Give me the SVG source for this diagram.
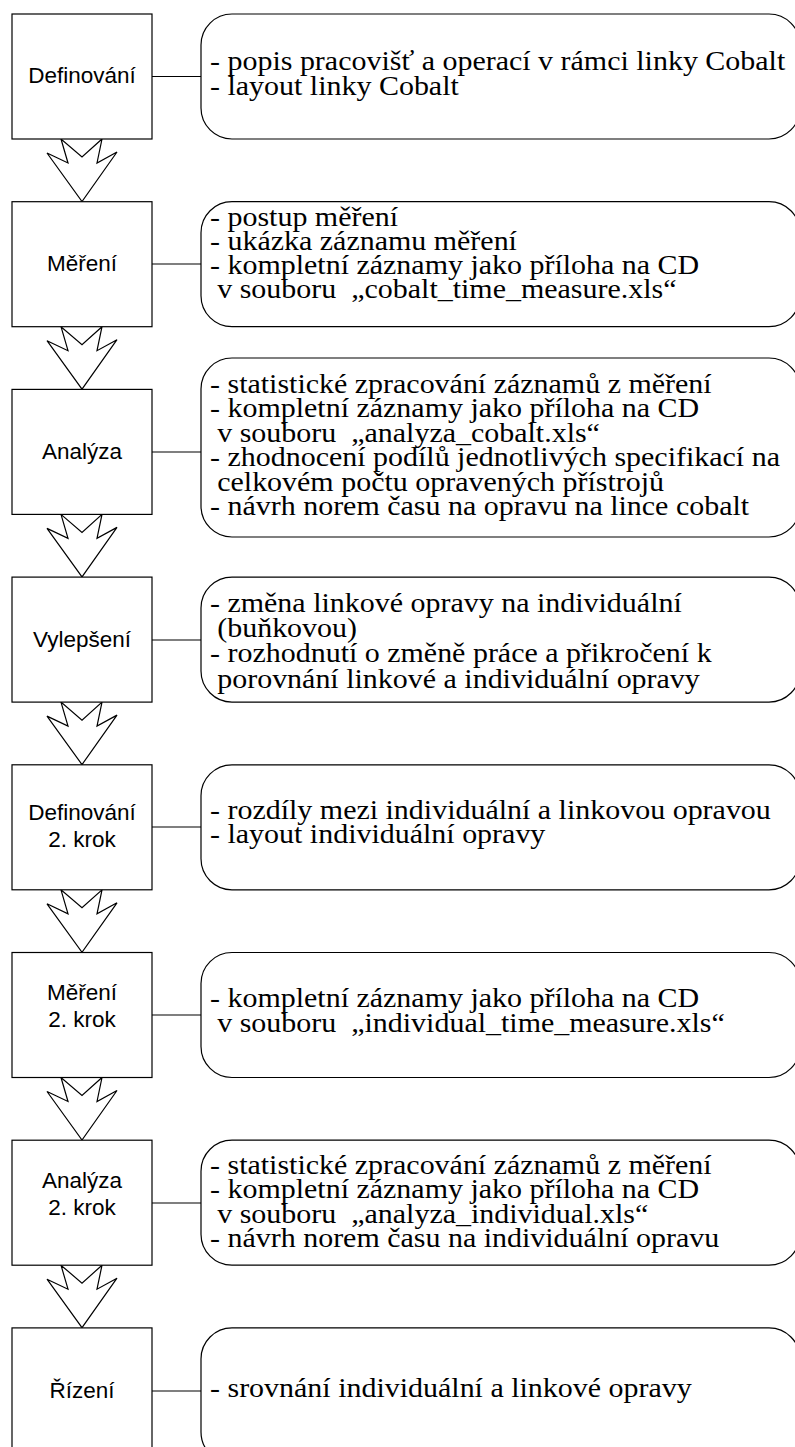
<svg xmlns="http://www.w3.org/2000/svg" width="795" height="1447" viewBox="0 0 795 1447">
  <style>
    .step { fill: #fff; stroke: #000; stroke-width: 1.2; }
    .note { fill: #fff; stroke: #000; stroke-width: 1.2; }
    .label { font-family: "Liberation Sans", Arial, sans-serif; font-size: 22.5px; fill: #000; text-anchor: middle; }
    .txt { font-family: "Liberation Serif", "Times New Roman", serif; font-size: 27px; fill: #000; }
    .txt text { white-space: pre; }
    .link { stroke: #000; stroke-width: 1.2; fill: none; }
    .flow { fill: #fff; stroke: #000; stroke-width: 1.2; stroke-linejoin: miter; }
  </style>
  <defs>
    <!-- notched block arrow, origin at the bottom centre of a step box -->
    <polygon id="flow-arrow" class="flow" points="-21,0 -14,24 -35,14 0,62.5 35,13 15,24 20,0 0,18"/>
  </defs>

  <rect width="795" height="1447" fill="#fff"/>

  <!-- connectors: step box to note, and block arrows between steps -->
  <g id="connectors">
    <line class="link" x1="152" y1="76.5" x2="201" y2="76.5"/>
    <line class="link" x1="152" y1="264" x2="201" y2="264"/>
    <line class="link" x1="152" y1="452" x2="201" y2="452"/>
    <line class="link" x1="152" y1="640" x2="201" y2="640"/>
    <line class="link" x1="152" y1="827" x2="201" y2="827"/>
    <line class="link" x1="152" y1="1015" x2="201" y2="1015"/>
    <line class="link" x1="152" y1="1203" x2="201" y2="1203"/>
    <line class="link" x1="152" y1="1391" x2="201" y2="1391"/>
    <use href="#flow-arrow" x="82" y="139"/>
    <use href="#flow-arrow" x="82" y="326.7"/>
    <use href="#flow-arrow" x="82" y="514.4"/>
    <use href="#flow-arrow" x="82" y="702.1"/>
    <use href="#flow-arrow" x="82" y="889.8"/>
    <use href="#flow-arrow" x="82" y="1077.5"/>
    <use href="#flow-arrow" x="82" y="1265.2"/>
  </g>

  <!-- note texts are set in a slightly widened serif face; continuation lines are indented -->
  <g id="step-definovani">
    <rect class="step" x="12" y="14" width="140" height="125"/>
    <text class="label" x="82" y="83">Definování</text>
    <rect class="note" x="201" y="14" width="599" height="125" rx="31" ry="31"/>
    <g class="txt" transform="translate(210 0) scale(1.11 1)">
      <text x="0" y="70">- popis pracovišť a operací v rámci linky Cobalt</text>
      <text x="0" y="95">- layout linky Cobalt</text>
    </g>
  </g>

  <g id="step-mereni">
    <rect class="step" x="12" y="201.7" width="140" height="125"/>
    <text class="label" x="82" y="271">Měření</text>
    <rect class="note" x="201" y="201.7" width="599" height="125" rx="31" ry="31"/>
    <g class="txt" transform="translate(210 0) scale(1.11 1)">
      <text x="0" y="226">- postup měření</text>
      <text x="0" y="250.5">- ukázka záznamu měření</text>
      <text x="0" y="274.5">- kompletní záznamy jako příloha na CD</text>
      <text x="6.5" y="298.5" xml:space="preserve">v souboru  „cobalt_time_measure.xls“</text>
    </g>
  </g>

  <g id="step-analyza">
    <rect class="step" x="12" y="389.4" width="140" height="125"/>
    <text class="label" x="82" y="459">Analýza</text>
    <rect class="note" x="201" y="358" width="599" height="179" rx="31" ry="31"/>
    <g class="txt" transform="translate(210 0) scale(1.11 1)">
      <text x="0" y="393">- statistické zpracování záznamů z měření</text>
      <text x="0" y="417.5">- kompletní záznamy jako příloha na CD</text>
      <text x="6.5" y="442" xml:space="preserve">v souboru  „analyza_cobalt.xls“</text>
      <text x="0" y="466.5">- zhodnocení podílů jednotlivých specifikací na</text>
      <text x="6.5" y="491">celkovém počtu opravených přístrojů</text>
      <text x="0" y="515.5">- návrh norem času na opravu na lince cobalt</text>
    </g>
  </g>

  <g id="step-vylepseni">
    <rect class="step" x="12" y="577.1" width="140" height="125"/>
    <text class="label" x="82" y="647">Vylepšení</text>
    <rect class="note" x="201" y="577.1" width="599" height="125" rx="31" ry="31"/>
    <g class="txt" transform="translate(210 0) scale(1.11 1)">
      <text x="0" y="612">- změna linkové opravy na individuální</text>
      <text x="6.5" y="637">(buňkovou)</text>
      <text x="0" y="662.5">- rozhodnutí o změně práce a přikročení k</text>
      <text x="6.5" y="688">porovnání linkové a individuální opravy</text>
    </g>
  </g>

  <g id="step-definovani-2">
    <rect class="step" x="12" y="764.8" width="140" height="125"/>
    <text class="label" x="82" y="820">Definování</text>
    <text class="label" x="82" y="846.5">2. krok</text>
    <rect class="note" x="201" y="764.8" width="599" height="125" rx="31" ry="31"/>
    <g class="txt" transform="translate(210 0) scale(1.11 1)">
      <text x="0" y="819">- rozdíly mezi individuální a linkovou opravou</text>
      <text x="0" y="843.5">- layout individuální opravy</text>
    </g>
  </g>

  <g id="step-mereni-2">
    <rect class="step" x="12" y="952.5" width="140" height="125"/>
    <text class="label" x="82" y="1000">Měření</text>
    <text class="label" x="82" y="1026.5">2. krok</text>
    <rect class="note" x="201" y="952.5" width="599" height="125" rx="31" ry="31"/>
    <g class="txt" transform="translate(210 0) scale(1.11 1)">
      <text x="0" y="1007">- kompletní záznamy jako příloha na CD</text>
      <text x="6.5" y="1032" xml:space="preserve">v souboru  „individual_time_measure.xls“</text>
    </g>
  </g>

  <g id="step-analyza-2">
    <rect class="step" x="12" y="1140.2" width="140" height="125"/>
    <text class="label" x="82" y="1188">Analýza</text>
    <text class="label" x="82" y="1214.5">2. krok</text>
    <rect class="note" x="201" y="1140.2" width="599" height="125" rx="31" ry="31"/>
    <g class="txt" transform="translate(210 0) scale(1.11 1)">
      <text x="0" y="1174">- statistické zpracování záznamů z měření</text>
      <text x="0" y="1198.5">- kompletní záznamy jako příloha na CD</text>
      <text x="6.5" y="1223" xml:space="preserve">v souboru  „analyza_individual.xls“</text>
      <text x="0" y="1247.5">- návrh norem času na individuální opravu</text>
    </g>
  </g>

  <g id="step-rizeni">
    <rect class="step" x="12" y="1327.9" width="140" height="135"/>
    <text class="label" x="82" y="1398">Řízení</text>
    <rect class="note" x="201" y="1327.9" width="599" height="135" rx="31" ry="31"/>
    <g class="txt" transform="translate(210 0) scale(1.11 1)">
      <text x="0" y="1397">- srovnání individuální a linkové opravy</text>
    </g>
  </g>
</svg>
